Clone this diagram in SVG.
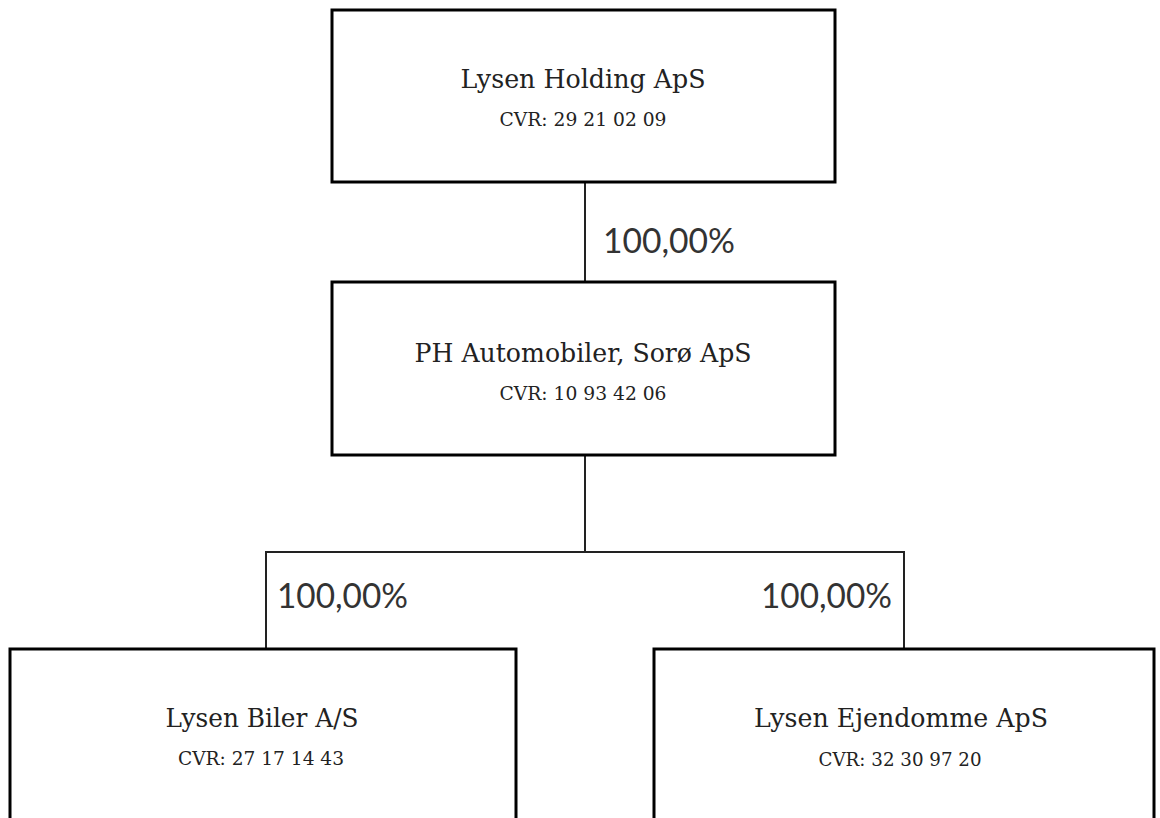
<svg xmlns="http://www.w3.org/2000/svg" width="1160" height="818" viewBox="0 0 1160 818">
<style>
.box{fill:#fff;stroke:#000;stroke-width:3}
.conn{fill:none;stroke:#222;stroke-width:2}
.title{font-family:"DejaVu Serif","Liberation Serif",serif;font-size:26.5px;fill:#222;text-anchor:middle}
.cvr{font-family:"DejaVu Serif","Liberation Serif",serif;font-size:19px;fill:#222;text-anchor:middle}
.pct{font-family:Lato,"Open Sans","Liberation Sans",sans-serif;font-size:34px;fill:#333}
</style>
<rect width="1160" height="818" fill="#fff"/>
<g id="connectors">
<line class="conn" x1="585" y1="182" x2="585" y2="282"/>
<polyline class="conn" points="585,455 585,552"/>
<polyline class="conn" points="266,649 266,552 904,552 904,649"/>
<text class="pct" x="603" y="253" textLength="132" lengthAdjust="spacingAndGlyphs">100,00%</text>
<text class="pct" x="277" y="608" textLength="131" lengthAdjust="spacingAndGlyphs">100,00%</text>
<text class="pct" x="761" y="608" textLength="131" lengthAdjust="spacingAndGlyphs">100,00%</text>
</g>
<g id="node-holding">
<rect class="box" x="332" y="10" width="503" height="172"/>
<text class="title" x="583" y="88" textLength="245" lengthAdjust="spacingAndGlyphs">Lysen Holding ApS</text>
<text class="cvr" x="583" y="126" textLength="167" lengthAdjust="spacingAndGlyphs">CVR: 29 21 02 09</text>
</g>
<g id="node-ph">
<rect class="box" x="332" y="282" width="503" height="173"/>
<text class="title" x="583" y="362" textLength="337" lengthAdjust="spacingAndGlyphs">PH Automobiler, Sorø ApS</text>
<text class="cvr" x="583" y="400" textLength="167" lengthAdjust="spacingAndGlyphs">CVR: 10 93 42 06</text>
</g>
<g id="node-biler">
<rect class="box" x="10" y="649" width="506" height="180"/>
<text class="title" x="262" y="727" textLength="193" lengthAdjust="spacingAndGlyphs">Lysen Biler A/S</text>
<text class="cvr" x="261" y="765" textLength="166" lengthAdjust="spacingAndGlyphs">CVR: 27 17 14 43</text>
</g>
<g id="node-ejendomme">
<rect class="box" x="654" y="649" width="500" height="180"/>
<text class="title" x="901" y="727" textLength="294" lengthAdjust="spacingAndGlyphs">Lysen Ejendomme ApS</text>
<text class="cvr" x="900" y="766" textLength="163" lengthAdjust="spacingAndGlyphs">CVR: 32 30 97 20</text>
</g>
</svg>
